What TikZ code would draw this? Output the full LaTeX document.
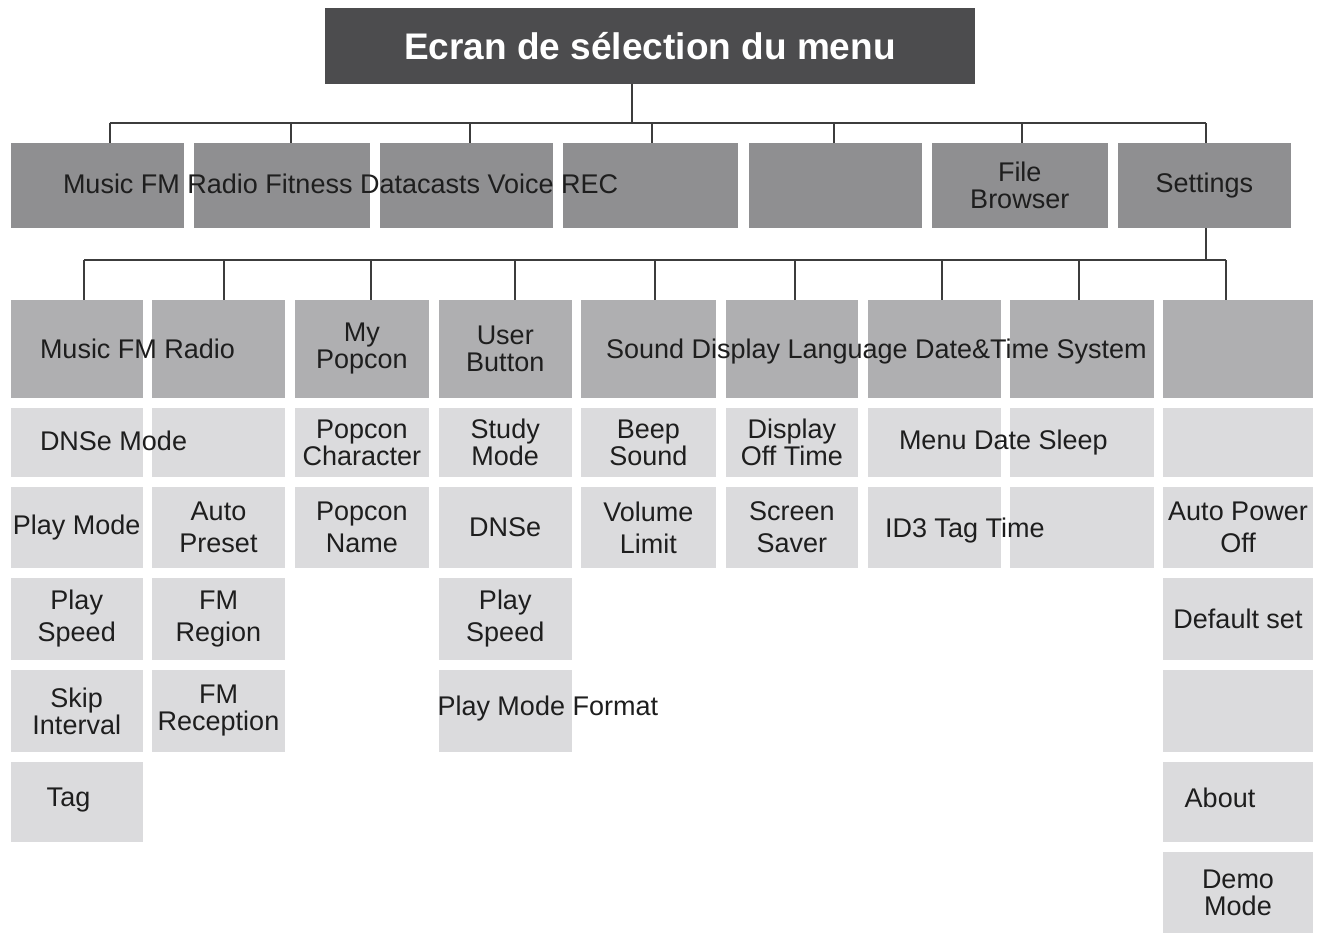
\documentclass[tikz,border=0pt]{standalone}
\usepackage{fontspec}
\setmainfont{Liberation Sans}
\definecolor{titlec}{HTML}{4C4C4E}
\definecolor{lonec}{HTML}{8F8F91}
\definecolor{hdrc}{HTML}{AFAFB1}
\definecolor{cellc}{HTML}{DBDBDD}
\definecolor{linec}{HTML}{3C3C3C}
\definecolor{txtc}{HTML}{1E1E1E}
\tikzset{
  box/.style={anchor=north west, inner sep=0pt, outer sep=0pt, align=center, text=txtc, font=\fontsize{27}{27}\selectfont},
  titlebox/.style={box, fill=titlec, text=white, font=\bfseries\fontsize{37}{37}\selectfont},
  lone/.style={box, fill=lonec},
  hdr/.style={box, fill=hdrc},
  cell/.style={box, fill=cellc},
  wide/.style={font=\fontsize{27}{32}\selectfont},
  txt/.style={inner sep=0pt, outer sep=0pt, text=txtc, font=\fontsize{27}{27}\selectfont, anchor=base west},
  ctxt/.style={inner sep=0pt, outer sep=0pt, text=txtc, font=\fontsize{27}{27}\selectfont, align=center},
  conn/.style={draw=linec, line width=2pt},
}
\newcommand\mybox[7]{\node[#1, minimum width=#5pt, minimum height=#6pt] (#2) at (#3,#4) {#7};}
\begin{document}
\begin{tikzpicture}[x=1pt,y=-1pt]
\useasboundingbox[fill=white] (0,0) rectangle (1318,934);
% title
\mybox{titlebox}{title}{325}{8}{650}{76}{Ecran de sélection du menu}
% level 1
\mybox{lone}{l1a}{10.5}{143}{173.5}{85}{}
\mybox{lone}{l1b}{194}{143}{175.5}{85}{}
\mybox{lone}{l1c}{380}{143}{173}{85}{}
\mybox{lone}{l1d}{563}{143}{175}{85}{}
\mybox{lone}{l1e}{749}{143}{173}{85}{}
\mybox{lone}{l1f}{932}{143}{175.5}{85}{File\\Browser}
\mybox{lone}{l1g}{1117.6}{143}{173.4}{85}{Settings}
\node[txt] (t1) at (63,193.5) {Music FM Radio Fitness Datacasts Voice REC};
% connectors level 1
\coordinate (bus1) at (632,123);
\draw[conn] (title.south -| bus1) -- (bus1);
\draw[conn] (109.5,123) -- (1206,123);
\foreach \x/\n in {109.5/l1a, 291/l1b, 470/l1c, 651.5/l1d, 834/l1e, 1022/l1f, 1206/l1g}{
  \coordinate (dd) at (\x,123);
  \draw[conn] (dd) -- (dd |- \n.north);
}
% row A (headers)
\mybox{hdr}{c1A}{10.5}{300}{132.5}{98}{}
\mybox{hdr}{c2A}{152}{300}{133}{98}{}
\mybox{hdr}{c3A}{294.6}{300}{134.4}{98}{My\\Popcon}
\mybox{hdr}{c4A}{439}{300}{132.5}{98}{User\\Button}
\mybox{hdr}{c5A}{581}{300}{134.7}{98}{}
\mybox{hdr}{c6A}{725.8}{300}{132.2}{98}{}
\mybox{hdr}{c7A}{868}{300}{132.6}{98}{}
\mybox{hdr}{c8A}{1010}{300}{143.8}{98}{}
\mybox{hdr}{c9A}{1163}{300}{150}{98}{}
\node[txt] (t2) at (40,358) {Music FM Radio};
\node[txt] (t3) at (606,358) {Sound Display Language Date\&Time System};
% connectors level 2
\coordinate (bus2) at (1206,260);
\draw[conn] (bus2 |- l1g.south) -- (bus2);
\draw[conn] (84,260) -- (1226,260);
\foreach \x/\n in {84/c1A, 224/c2A, 371/c3A, 515/c4A, 655/c5A, 795/c6A, 942/c7A, 1079/c8A, 1226/c9A}{
  \coordinate (dd) at (\x,260);
  \draw[conn] (dd) -- (dd |- \n.north);
}
% row B
\mybox{cell}{c1B}{10.5}{408}{132.5}{69}{}
\mybox{cell}{c2B}{152}{408}{133}{69}{}
\mybox{cell}{c3B}{294.6}{408}{134.4}{69}{Popcon\\Character}
\mybox{cell}{c4B}{439}{408}{132.5}{69}{Study\\Mode}
\mybox{cell}{c5B}{581}{408}{134.7}{69}{Beep\\Sound}
\mybox{cell}{c6B}{725.8}{408}{132.2}{69}{Display\\Off Time}
\mybox{cell}{c7B}{868}{408}{132.6}{69}{}
\mybox{cell}{c8B}{1010}{408}{143.8}{69}{}
\mybox{cell}{c9B}{1163}{408}{150}{69}{}
\node[txt] (t4) at (40,450) {DNSe Mode};
\node[txt] (t5) at (899,449) {Menu Date Sleep};
% row C
\mybox{cell}{c1C}{10.5}{487}{132.5}{81}{Play Mode}
\mybox{cell,wide}{c2C}{152}{487}{133}{81}{Auto\\Preset}
\mybox{cell,wide}{c3C}{294.6}{487}{134.4}{81}{Popcon\\Name}
\mybox{cell}{c4C}{439}{487}{132.5}{81}{DNSe}
\mybox{cell,wide}{c5C}{581}{487}{134.7}{81}{Volume\\Limit}
\mybox{cell,wide}{c6C}{725.8}{487}{132.2}{81}{Screen\\Saver}
\mybox{cell}{c7C}{868}{487}{132.6}{81}{}
\mybox{cell}{c8C}{1010}{487}{143.8}{81}{}
\mybox{cell,wide}{c9C}{1163}{487}{150}{81}{Auto Power\\Off}
\node[txt] (t7) at (885,537) {ID3 Tag Time};
% row D
\mybox{cell,wide}{c1D}{10.5}{578}{132.5}{82}{Play\\Speed}
\mybox{cell,wide}{c2D}{152}{578}{133}{82}{FM\\Region}
\mybox{cell,wide}{c4D}{439}{578}{132.5}{82}{Play\\Speed}
\mybox{cell}{c9D}{1163}{578}{150}{82}{Default set}
% row E
\mybox{cell}{c1E}{10.5}{670}{132.5}{82}{Skip\\Interval}
\mybox{cell}{c2E}{152}{670}{133}{82}{FM\\Reception}
\mybox{cell}{c4E}{439}{670}{132.5}{82}{}
\mybox{cell}{c9E}{1163}{670}{150}{82}{}
\node[txt] (t8) at (437.5,715) {Play Mode Format};
% row F
\mybox{cell}{c1F}{10.5}{762}{132.5}{80}{}
\mybox{cell}{c9F}{1163}{762}{150}{80}{}
\node[ctxt] (t9) at (68.5,800) {Tag};
\node[ctxt] (t10) at (1220,798) {About};
% row G
\mybox{cell}{c9G}{1163}{852}{150}{81}{Demo\\Mode}
\end{tikzpicture}
\end{document}
